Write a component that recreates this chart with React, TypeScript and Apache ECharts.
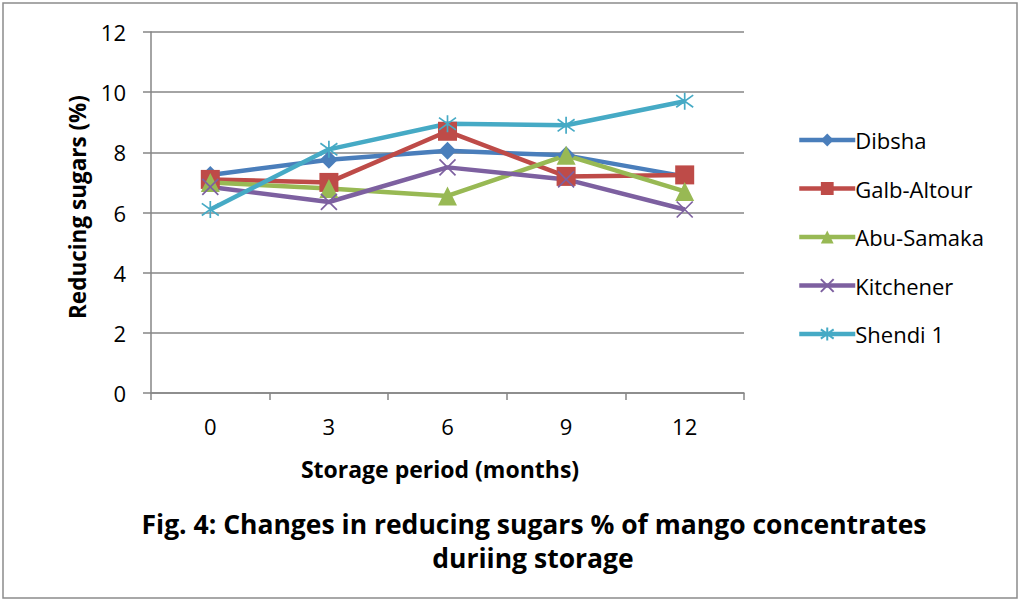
import React, { useEffect, useRef } from "react";
import * as echarts from "echarts";

const categories = ["0", "3", "6", "9", "12"];
const dibsha = [7.25, 7.75, 8.05, 7.9, 7.2];
const galbAltour = [7.1, 7.0, 8.7, 7.2, 7.25];
const abuSamaka = [7.0, 6.8, 6.55, 7.9, 6.7];
const kitchener = [6.85, 6.35, 7.5, 7.1, 6.1];
const shendi1 = [6.1, 8.1, 8.95, 8.9, 9.7];
const yTicks = [0, 2, 4, 6, 8, 10, 12];

const FONT = "'Open Sans', 'Noto Sans', sans-serif";
const CROSS = "path://M0 0L10 10M10 0L0 10";
const STAR = "path://M0 0L10 10M10 0L0 10M5 -2L5 12";

export default function App() {
  const ref = useRef<HTMLDivElement>(null);
  useEffect(() => {
    if (!ref.current) return;
    const chart = echarts.init(ref.current, null, { renderer: "svg" });
    const mk = (name: string, data: number[], color: string, symbol: string, size: number, stroke = false) => ({
      name,
      type: "line",
      data,
      symbol,
      symbolSize: size,
      showSymbol: true,
      lineStyle: { color, width: 4.5 },
      itemStyle: stroke
        ? { color: "none", borderColor: color, borderWidth: 1.7 }
        : { color, borderColor: color, borderWidth: 0 },
      z: 3,
    });
    chart.setOption({
      animation: false,
      backgroundColor: "#ffffff",
      grid: { left: 151, right: 276, top: 32, bottom: 209, containLabel: false },
      xAxis: {
        type: "category",
        data: categories,
        boundaryGap: true,
        axisLine: { lineStyle: { color: "#868686", width: 1.5 } },
        axisTick: { show: true, alignWithLabel: false, length: 7, lineStyle: { color: "#868686", width: 1.5 } },
        axisLabel: { color: "#000", fontSize: 22, fontFamily: FONT, margin: 22 },
      },
      yAxis: {
        type: "value",
        min: yTicks[0],
        max: yTicks[yTicks.length - 1],
        interval: 2,
        axisLine: { show: true, lineStyle: { color: "#868686", width: 1.5 } },
        axisTick: { show: true, length: 8, lineStyle: { color: "#868686", width: 1.5 } },
        splitLine: { lineStyle: { color: "#868686", width: 1.5 } },
        axisLabel: { color: "#000", fontSize: 22, fontFamily: FONT, margin: 25 },
      },
      legend: {
        orient: "vertical",
        left: 792,
        top: 124,
        itemWidth: 56,
        itemHeight: 16,
        itemGap: 26.5,
        lineStyle: { width: 4.5 },
        textStyle: { color: "#000", fontSize: 22, fontFamily: FONT, padding: [0, 0, 0, -5] },
        data: ["Dibsha", "Galb-Altour", "Abu-Samaka", "Kitchener", "Shendi 1"],
      },
      series: [
        mk("Dibsha", dibsha, "#4A7EBB", "diamond", 18),
        mk("Galb-Altour", galbAltour, "#BE4B48", "rect", 19),
        mk("Abu-Samaka", abuSamaka, "#98B954", "triangle", 19),
        mk("Kitchener", kitchener, "#7D60A0", CROSS, 16, true),
        mk("Shendi 1", shendi1, "#46AAC5", STAR, 17, true),
      ],
      graphic: [
        {
          type: "rect",
          shape: { x: 3, y: 3, width: 1014, height: 595 },
          style: { fill: "none", stroke: "#8c8c8c", lineWidth: 1.5 },
          z: -1,
        },
        {
          type: "text",
          x: 77,
          y: 207,
          rotation: Math.PI / 2,
          style: {
            text: "Reducing sugars (%)",
            fill: "#000",
            font: `bold 22.5px ${FONT}`,
            align: "center",
            verticalAlign: "middle",
          },
        },
        {
          type: "text",
          x: 440,
          y: 469,
          style: {
            text: "Storage period (months)",
            fill: "#000",
            font: `bold 23px ${FONT}`,
            align: "center",
            verticalAlign: "middle",
          },
        },
        {
          type: "text",
          x: 534,
          y: 524,
          style: {
            text: "Fig. 4: Changes in reducing sugars % of mango concentrates",
            fill: "#000",
            font: `bold 26.5px ${FONT}`,
            align: "center",
            verticalAlign: "middle",
          },
        },
        {
          type: "text",
          x: 533,
          y: 558,
          style: {
            text: "duriing storage",
            fill: "#000",
            font: `bold 26.5px ${FONT}`,
            align: "center",
            verticalAlign: "middle",
          },
        },
      ],
    });
    return () => chart.dispose();
  }, []);
  return (
    <div
      ref={ref}
      style={{ position: "fixed", left: 0, top: 0, width: 1020, height: 602 }}
    />
  );
}
